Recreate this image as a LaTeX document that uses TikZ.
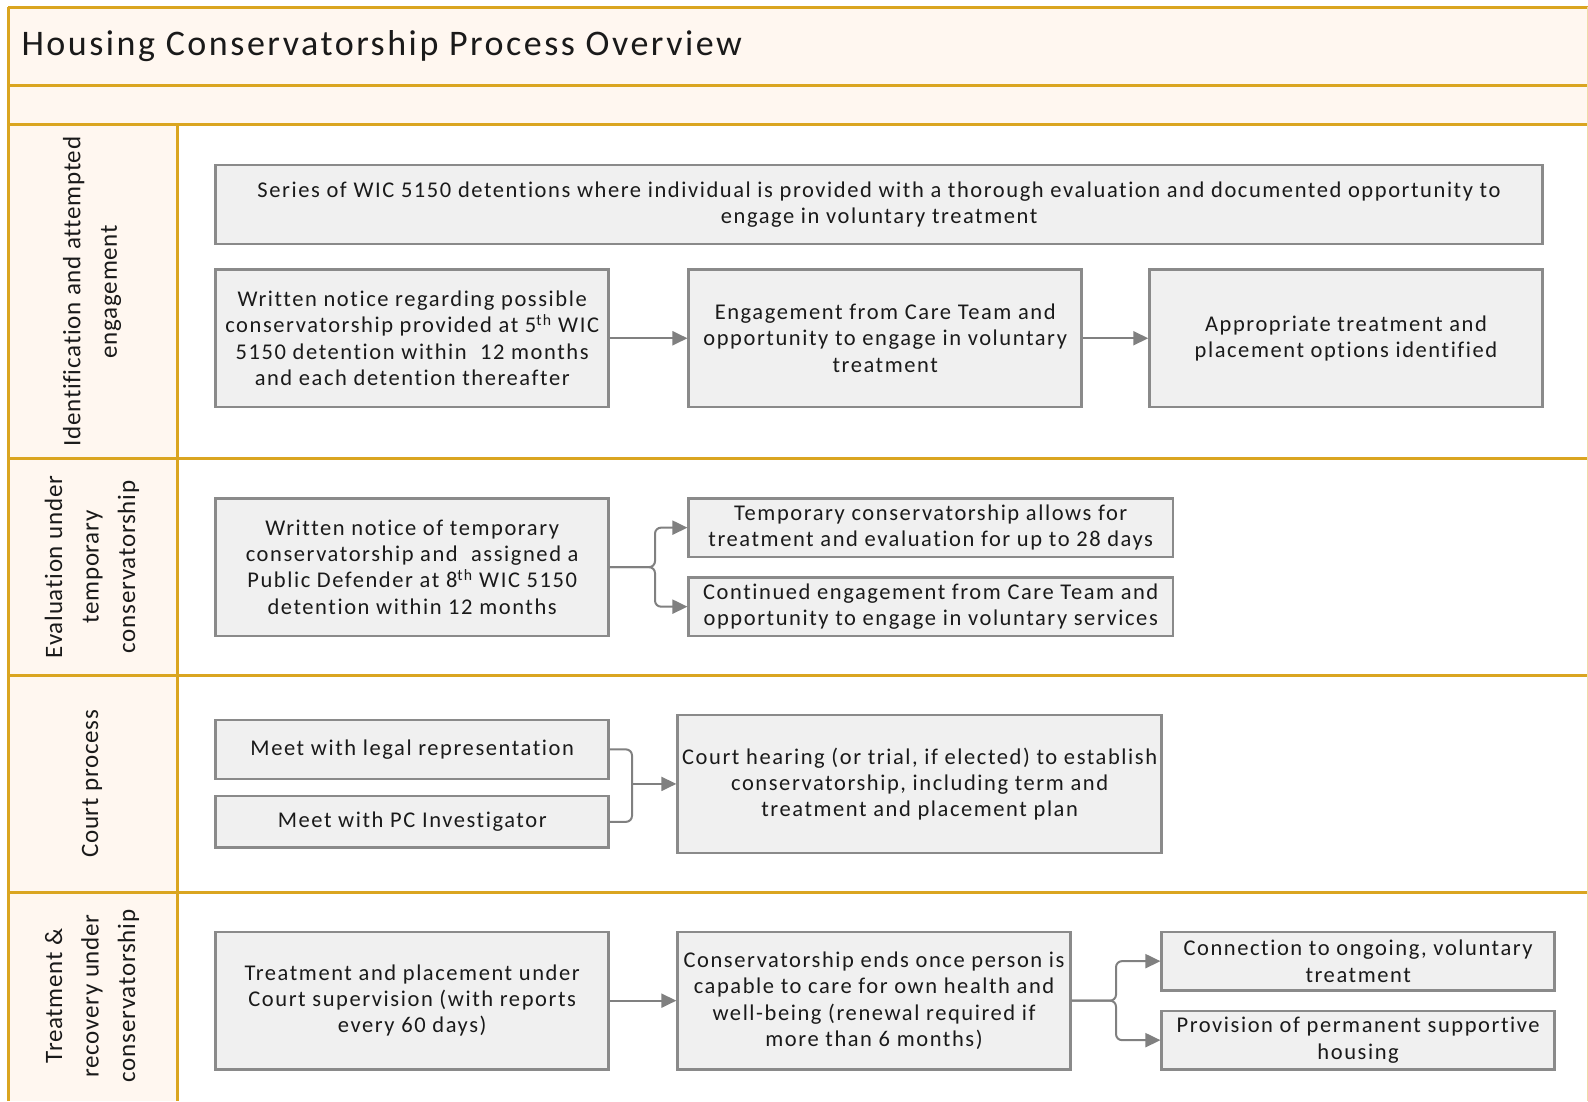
\documentclass[tikz,border=0pt]{standalone}
\usepackage{fontspec}
\setmainfont{Carlito}[LetterSpace=7,Ligatures={NoCommon}]
\newfontfamily\lanefont{Carlito}[LetterSpace=3,Ligatures={NoCommon}]
\usetikzlibrary{arrows.meta,calc}
\definecolor{frame}{HTML}{DAA520}
\definecolor{peach}{HTML}{FFF7F0}
\definecolor{boxfill}{HTML}{F0F0F0}
\definecolor{boxline}{HTML}{8A8A8A}
\definecolor{txt}{HTML}{1A1A1A}
\definecolor{arrowc}{HTML}{808080}
\tikzset{
  pbox/.style={draw=boxline, fill=boxfill, line width=2.5pt, inner sep=0pt, align=center,
    text=txt, font=\fontsize{22.5}{26.3}\selectfont},
  lanelabel/.style={rotate=90, align=center, text=txt, font=\lanefont\fontsize{25}{36.5}\selectfont},
  framel/.style={draw=frame, line width=3pt},
  conn/.style={draw=arrowc, line width=2pt, rounded corners=6pt},
  arr/.style={conn, -{Triangle[length=15pt,width=14pt]}}
}
\begin{document}
\begin{tikzpicture}[x=1pt,y=-1pt]
\useasboundingbox (0,0) rectangle (1588,1101);
\fill[white] (0,0) rectangle (1588,1101);
% header rows
\fill[peach] (8,7) rectangle (1588,124.6);
\fill[peach] (8,124.6) rectangle (177,1101);
\draw[framel] (8,7) -- (1588,7);
\draw[framel] (8,85) -- (1588,85);
\draw[framel] (8,124.6) -- (1588,124.6);
\draw[framel] (8,458.8) -- (1588,458.8);
\draw[framel] (8,675.5) -- (1588,675.5);
\draw[framel] (8,892.3) -- (1588,892.3);
\draw[framel] (8,7) -- (8,1101);
\draw[framel] (177,124.6) -- (177,1101);
\draw[draw=frame!40, line width=1pt] (1587.5,7) -- (1587.5,1101);
\node[anchor=west, text=txt, font=\fontsize{36}{40}\selectfont] (title) at (18,46) {Housing Conservatorship Process Overview};
% lane labels
\node[lanelabel] (l1) at (92,291.7) {Identification and attempted\\engagement};
\node[lanelabel] (l2) at (92,567) {Evaluation under\\temporary\\conservatorship};
\node[lanelabel] (l3) at (92,784) {Court process};
\node[lanelabel] (l4) at (92,996) {Treatment \&\\recovery under\\conservatorship};
% lane 1
\node[pbox, minimum width=1326.8pt, minimum height=79pt] (A) at (879.1,204.5) {Series of WIC 5150 detentions where individual is provided with a thorough evaluation and documented opportunity to\\engage in voluntary treatment};
\node[pbox, minimum width=393pt, minimum height=137.7pt] (B) at (412.2,338.25) {Written notice regarding possible\\conservatorship provided at 5\textsuperscript{th} WIC\\5150 detention within \ 12 months\\and each detention thereafter};
\node[pbox, minimum width=393pt, minimum height=137.7pt] (C) at (885.2,338.25) {Engagement from Care Team and\\opportunity to engage in voluntary\\treatment};
\node[pbox, minimum width=393pt, minimum height=137.7pt] (D) at (1346,338.25) {Appropriate treatment and\\placement options identified};
\draw[arr] (B.east) -- (C.west);
\draw[arr] (C.east) -- (D.west);
% lane 2
\node[pbox, minimum width=393pt, minimum height=137.7pt] (E) at (412.2,567.15) {Written notice of temporary\\conservatorship and \ assigned a\\Public Defender at 8\textsuperscript{th} WIC 5150\\detention within 12 months};
\node[pbox, minimum width=484.1pt, minimum height=58.7pt] (F) at (930.75,527.65) {Temporary conservatorship allows for\\treatment and evaluation for up to 28 days};
\node[pbox, minimum width=484.1pt, minimum height=58.7pt] (G) at (930.75,606.65) {Continued engagement from Care Team and\\opportunity to engage in voluntary services};
\coordinate (ej) at (655,567.15);
\draw[arr] (E.east) -- (ej) |- (F.west);
\draw[arr] (E.east) -- (ej) |- (G.west);
% lane 3
\node[pbox, minimum width=393pt, minimum height=58.8pt] (H) at (412.2,749.4) {Meet with legal representation};
\node[pbox, minimum width=393pt, minimum height=51.7pt] (I) at (412.2,821.85) {Meet with PC Investigator};
\node[pbox, minimum width=484.1pt, minimum height=137.8pt] (J) at (919.65,783.9) {Court hearing (or trial, if elected) to establish\\conservatorship, including term and\\treatment and placement plan};
\coordinate (hj) at (632,783.9);
\draw[conn] (H.east) -| (hj);
\draw[conn] (I.east) -| (hj);
\draw[arr] (hj) -- (J.west);
% lane 4
\node[pbox, minimum width=393pt, minimum height=137.7pt] (K) at (412.2,1000.65) {Treatment and placement under\\Court supervision (with reports\\every 60 days)};
\node[pbox, minimum width=392.9pt, minimum height=137.7pt] (L) at (874.05,1000.65) {Conservatorship ends once person is\\capable to care for own health and\\well-being (renewal required if\\more than 6 months)};
\node[pbox, minimum width=392.9pt, minimum height=58.7pt] (M) at (1358.15,961.15) {Connection to ongoing, voluntary\\treatment};
\node[pbox, minimum width=392.9pt, minimum height=58.7pt] (N) at (1358.15,1040.15) {Provision of permanent supportive\\housing};
\draw[arr] (K.east) -- (L.west);
\coordinate (lj) at (1116,1000.65);
\draw[arr] (L.east) -- (lj) |- (M.west);
\draw[arr] (L.east) -- (lj) |- (N.west);
\end{tikzpicture}
\end{document}
